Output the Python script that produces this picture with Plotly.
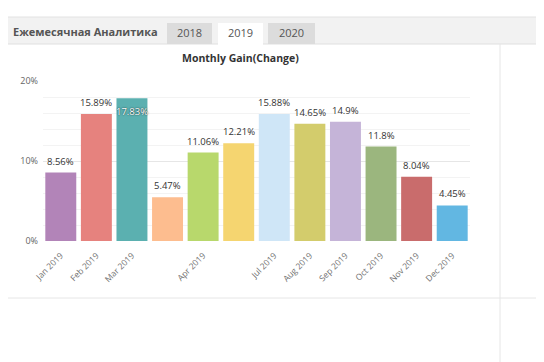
import plotly.graph_objects as go

# ---- data ----
categories = ["Jan 2019", "Feb 2019", "Mar 2019", "Apr 2019", "May 2019", "Jun 2019",
              "Jul 2019", "Aug 2019", "Sep 2019", "Oct 2019", "Nov 2019", "Dec 2019"]
gains = [8.56, 15.89, 17.83, 5.47, 11.06, 12.21, 15.88, 14.65, 14.9, 11.8, 8.04, 4.45]
value_labels = ["8.56%", "15.89%", "17.83%", "5.47%", "11.06%", "12.21%",
                "15.88%", "14.65%", "14.9%", "11.8%", "8.04%", "4.45%"]
tick_labels = ["Jan 2019", "Feb 2019", "Mar 2019", "", "Apr 2019", "",
               "Jul 2019", "Aug 2019", "Sep 2019", "Oct 2019", "Nov 2019", "Dec 2019"]
y_ticks = [0, 10, 20]
y_tick_labels = ["0%", "10%", "20%"]
tabs = ["2018", "2019", "2020"]
header_title = "Ежемесячная Аналитика"
chart_title = "Monthly Gain(Change)"

colors = ["#b284b8", "#e6827e", "#5bb0b0", "#fdbd8f", "#b8d86c", "#f5d570",
          "#cfe6f7", "#d3cc6c", "#c5b4d8", "#9bb67e", "#c96c6c", "#62b7e2"]

W, H = 544, 362
OFF = 8  # page body margin offset
L, R, T, B = 43, 470, 81, 241  # plot area in page pixels


def px(x):
    return (x - L) / (R - L)


def py(y):
    return (B - y) / (B - T)


fig = go.Figure(go.Bar(
    x=categories, y=gains, marker=dict(color=colors, line=dict(width=0)),
    hoverinfo="skip",
))

shapes = []
# header band
shapes.append(dict(type="rect", xref="paper", yref="paper",
                   x0=px(0), x1=px(W + 10), y0=py(44), y1=py(17),
                   fillcolor="#f2f2f2", line=dict(width=0), layer="below"))
shapes.append(dict(type="line", xref="paper", yref="paper",
                   x0=px(0), x1=px(W + 10), y0=py(17), y1=py(17),
                   line=dict(color="#e2e2e2", width=1), layer="below"))
shapes.append(dict(type="line", xref="paper", yref="paper",
                   x0=px(0), x1=px(W + 10), y0=py(44), y1=py(44),
                   line=dict(color="#e0e0e0", width=1), layer="below"))
# tabs
tab_x = [(167, 212), (218, 263), (268, 315)]
for i, (a, b) in enumerate(tab_x):
    active = tabs[i] == "2019"
    shapes.append(dict(type="rect", xref="paper", yref="paper",
                       x0=px(a), x1=px(b), y0=py(45 if active else 44), y1=py(23),
                       fillcolor="#ffffff" if active else "#dcdcdc",
                       line=dict(width=0), layer="below"))
# separators
shapes.append(dict(type="line", xref="paper", yref="paper",
                   x0=px(500), x1=px(500), y0=py(44), y1=py(H + 10),
                   line=dict(color="#e6e6e6", width=1), layer="below"))
shapes.append(dict(type="line", xref="paper", yref="paper",
                   x0=px(0), x1=px(W + 10), y0=py(298), y1=py(298),
                   line=dict(color="#e6e6e6", width=1), layer="below"))

annotations = [dict(text="<b>" + header_title + "</b>", xref="paper", yref="paper",
                    x=px(11), y=py(31), xanchor="left", yanchor="middle",
                    showarrow=False, font=dict(family="Open Sans", size=11, color="#555555"))]
for i, (a, b) in enumerate(tab_x):
    annotations.append(dict(text=tabs[i], xref="paper", yref="paper",
                            x=px((a + b) / 2), y=py(33), xanchor="center", yanchor="middle",
                            showarrow=False, font=dict(family="Open Sans", size=11, color="#555555")))
annotations.append(dict(text="<b>" + chart_title + "</b>", xref="paper", yref="paper",
                        x=px(240), y=py(58), xanchor="center", yanchor="middle",
                        showarrow=False, font=dict(family="Open Sans", size=10.5, color="#333333")))

# value labels: above the bar, or inside at the top when there is no room
for cat, v, lab in zip(categories, gains, value_labels):
    if v > 17:
        annotations.append(dict(text=lab, x=cat, y=v, xref="x", yref="y",
                                xanchor="center", yanchor="top", yshift=-5, showarrow=False,
                                font=dict(family="Open Sans", size=9.5, color="#ffffff",
                                          shadow="0px 0px 1.5px #000")))
    else:
        annotations.append(dict(text=lab, x=cat, y=v, xref="x", yref="y",
                                xanchor="center", yanchor="bottom", yshift=3, showarrow=False,
                                font=dict(family="Open Sans", size=9.5, color="#333333")))

fig.update_layout(
    width=W, height=H,
    margin=dict(l=L - OFF, r=W - (R - OFF), t=T - OFF, b=H - (B - OFF), pad=0,
                autoexpand=False),
    paper_bgcolor="#ffffff", plot_bgcolor="rgba(0,0,0,0)",
    showlegend=False, bargap=0.13,
    shapes=shapes, annotations=annotations,
    xaxis=dict(tickmode="array", tickvals=categories, ticktext=tick_labels,
               tickangle=-45, tickfont=dict(family="Open Sans", size=8.5, color="#707070"),
               showgrid=False, showline=False, ticks="", zeroline=False, automargin=False,
               ticklabelstandoff=7),
    yaxis=dict(range=[0, 20], tickvals=y_ticks, ticktext=y_tick_labels,
               tickfont=dict(family="Open Sans", size=9, color="#666666"),
               showgrid=True, gridcolor="#e6e6e6", gridwidth=1, zeroline=False,
               ticks="", ticklabelstandoff=4, automargin=False,
               minor=dict(dtick=2, tick0=0, showgrid=True, gridcolor="#f3f3f3", gridwidth=1)),
)

fig.write_html("out.html")
